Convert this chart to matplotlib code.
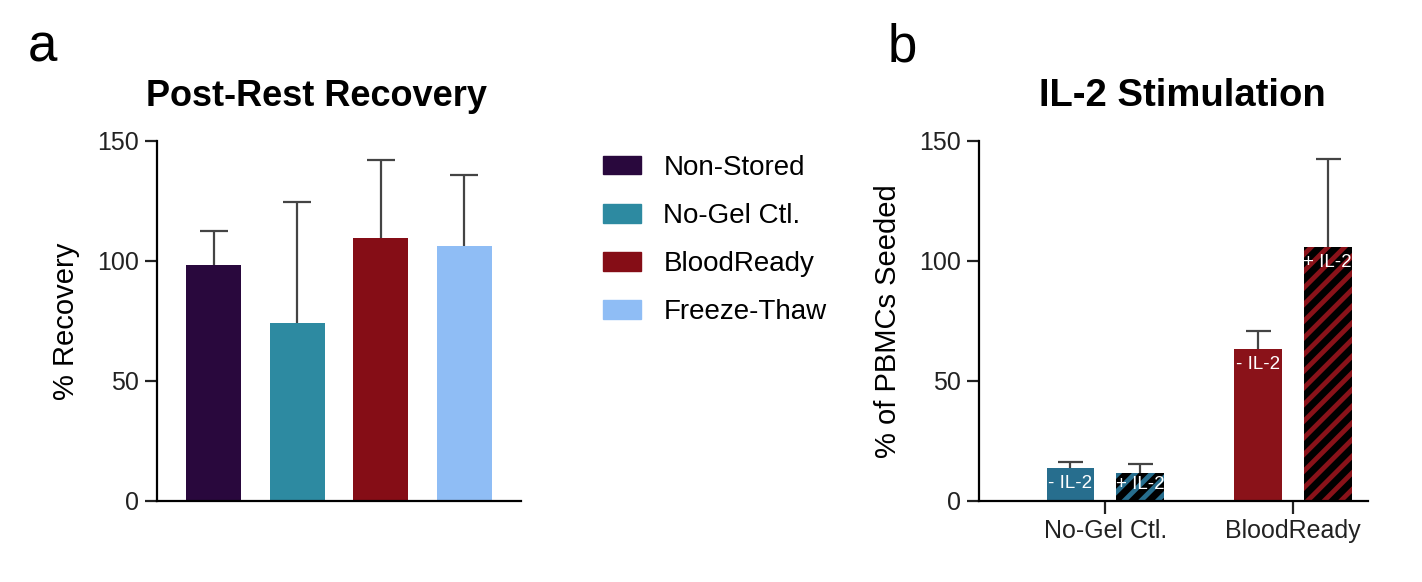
import matplotlib.pyplot as plt
import matplotlib.patches as mpatches
import numpy as np

plt.rcParams['font.family'] = ['Liberation Sans', 'DejaVu Sans']
plt.rcParams['hatch.linewidth'] = 5

#
# Data
#

groups_a = ['Non-Stored', 'No-Gel Ctl.', 'BloodReady', 'Freeze-Thaw']
recovery = [98.3, 74.2, 109.6, 106.3]
recovery_sd = [14.2, 50.4, 32.4, 29.5]
colors_a = ['#29083d', '#2d8aa1', '#850d16', '#8fbdf5']

groups_b = ['No-Gel Ctl.', 'BloodReady']
conditions = ['- IL-2', '+ IL-2']
seeded = [[13.8, 11.7], [63.5, 105.8]]
seeded_sd = [[2.4, 3.6], [7.3, 36.7]]
colors_b = ['#276e8e', '#8a1219']

fig = plt.figure(figsize=(14.22, 5.82), dpi=100)

def style_axes(ax):
    for s in ['top', 'right']:
        ax.spines[s].set_visible(False)
    for s in ['left', 'bottom']:
        ax.spines[s].set_linewidth(1.6)
    ax.tick_params(direction='out', length=9, width=1.6, pad=4, labelsize=18, colors='#222222')
    ax.set_ylim(0, 150)
    ax.set_yticks([0, 50, 100, 150])

def upper_errorbar(ax, xs, ys, errs, cap):
    # only the upper half of the error bar, no cap at the bar top
    eb = ax.errorbar(xs, ys, yerr=[np.zeros(len(xs)), errs], fmt='none',
                     ecolor='#444444', elinewidth=1.6, capsize=cap, capthick=1.6, zorder=1)
    eb[1][0].set_visible(False)

#
# Panel a
#

ax1 = fig.add_axes([0.1104, 0.1392, 0.256, 0.6186])
x = np.arange(len(groups_a))
ax1.bar(x, recovery, width=0.66, color=colors_a, zorder=2)
upper_errorbar(ax1, x, recovery, recovery_sd, 10)
ax1.set_xlim(-0.677, 3.68)
ax1.set_xticks([])
style_axes(ax1)
ax1.set_ylabel('% Recovery', fontsize=21, labelpad=12)

handles = [mpatches.Patch(color=c, label=g) for c, g in zip(colors_a, groups_a)]
fig.legend(handles=handles, loc='upper left', bbox_to_anchor=(0.4066, 0.777),
           frameon=False, fontsize=20, handlelength=1.37, handleheight=0.65,
           handletextpad=0.8, labelspacing=0.8)

#
# Panel b
#

ax2 = fig.add_axes([0.6885, 0.1392, 0.2735, 0.6186])
off = 0.186
w = 0.253
for i in range(len(groups_b)):
    for j in range(len(conditions)):
        xp = i + (j - 0.5) * 2 * off
        v = seeded[i][j]
        ax2.bar(xp, v, width=w, color=colors_b[i], zorder=2,
                hatch='//' if j == 1 else None,
                edgecolor='black' if j == 1 else colors_b[i], linewidth=0)
        upper_errorbar(ax2, [xp], [v], [seeded_sd[i][j]], 9)
        ax2.text(xp, max(v - 6.5, 7), conditions[j], color='white', fontsize=13.5,
                 ha='center', va='center', zorder=3)
ax2.set_xlim(-0.672, 1.40)
ax2.set_xticks([0, 1])
ax2.set_xticklabels(groups_b)
style_axes(ax2)
ax2.set_ylabel('% of PBMCs Seeded', fontsize=21, labelpad=12)

#
# Titles and panel letters
#

fig.text(316 / 1422, 1 - 96 / 582, 'Post-Rest Recovery', fontsize=26, fontweight='bold',
         ha='center', va='center')
fig.text(1182 / 1422, 1 - 96 / 582, 'IL-2 Stimulation', fontsize=27.5, fontweight='bold',
         ha='center', va='center')
fig.text(28 / 1422, 1 - 62 / 582, 'a', fontsize=38, ha='left', va='baseline')
fig.text(888 / 1422, 1 - 62 / 582, 'b', fontsize=38, ha='left', va='baseline')

fig.savefig('out.png', dpi=100)
